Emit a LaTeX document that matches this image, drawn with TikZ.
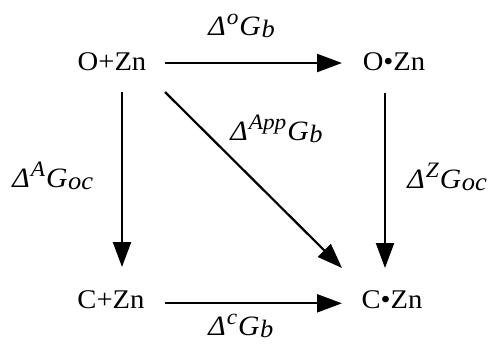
\documentclass[tikz,border=0pt]{standalone}
\usepackage{fontspec}
\setmainfont{Liberation Serif}[FakeStretch=1.06]
\usetikzlibrary{arrows.meta}
\newcommand{\dglab}[2]{\textit{Δ\kern0.5pt\raisebox{5.5pt}{\fontsize{11}{11}\selectfont #1}\kern0.5pt G\kern0.3pt\raisebox{-1pt}{\fontsize{12.5}{12.5}\selectfont #2}}}
\tikzset{
  state/.style={inner sep=0pt, anchor=base, font=\fontsize{13.5}{13.5}\selectfont},
  elab/.style={inner sep=0pt, anchor=base west, font=\fontsize{14}{14}\selectfont},
  arr/.style={line width=1.1pt, -{Triangle[length=12.5pt,width=9pt]}}
}
\begin{document}
\begin{tikzpicture}[x=0.5pt,y=-0.5pt]
\useasboundingbox (0,0) rectangle (491,344);
\node[state] (ozn) at (112,70) {O+Zn};
\node[state] (oczn) at (394,70) {O•Zn};
\node[state] (czn) at (111,308) {C+Zn};
\node[state] (cczn) at (392,308) {C•Zn};
% horizontal
\draw[arr] ([xshift=26.5pt,yshift=3.5pt]ozn.base) -- ([xshift=-26pt,yshift=3.5pt]oczn.base);
\draw[arr] ([xshift=27pt,yshift=2.35pt]czn.base) -- ([xshift=-25pt,yshift=2.35pt]cczn.base);
% vertical
\draw[arr] ([xshift=5pt,yshift=-11pt]ozn.base) -- ([xshift=5.5pt,yshift=20.5pt]czn.base);
\draw[arr] ([xshift=-4.5pt,yshift=-11.5pt]oczn.base) -- ([xshift=-3.5pt,yshift=20pt]cczn.base);
% diagonal
\draw[arr] ([xshift=26.5pt,yshift=-11pt]ozn.base) -- ([xshift=-25pt,yshift=20pt]cczn.base);
% labels
\node[elab] (lo) at (208,35) {\dglab{o}{b}};
\node[elab] (lapp) at (230,140) {\dglab{App}{b}};
\node[elab] (la) at (12,187) {\dglab{A}{oc}};
\node[elab] (lz) at (407,188) {\dglab{Z}{oc}};
\node[elab] (lc) at (208,335) {\dglab{c}{b}};
\end{tikzpicture}
\end{document}
